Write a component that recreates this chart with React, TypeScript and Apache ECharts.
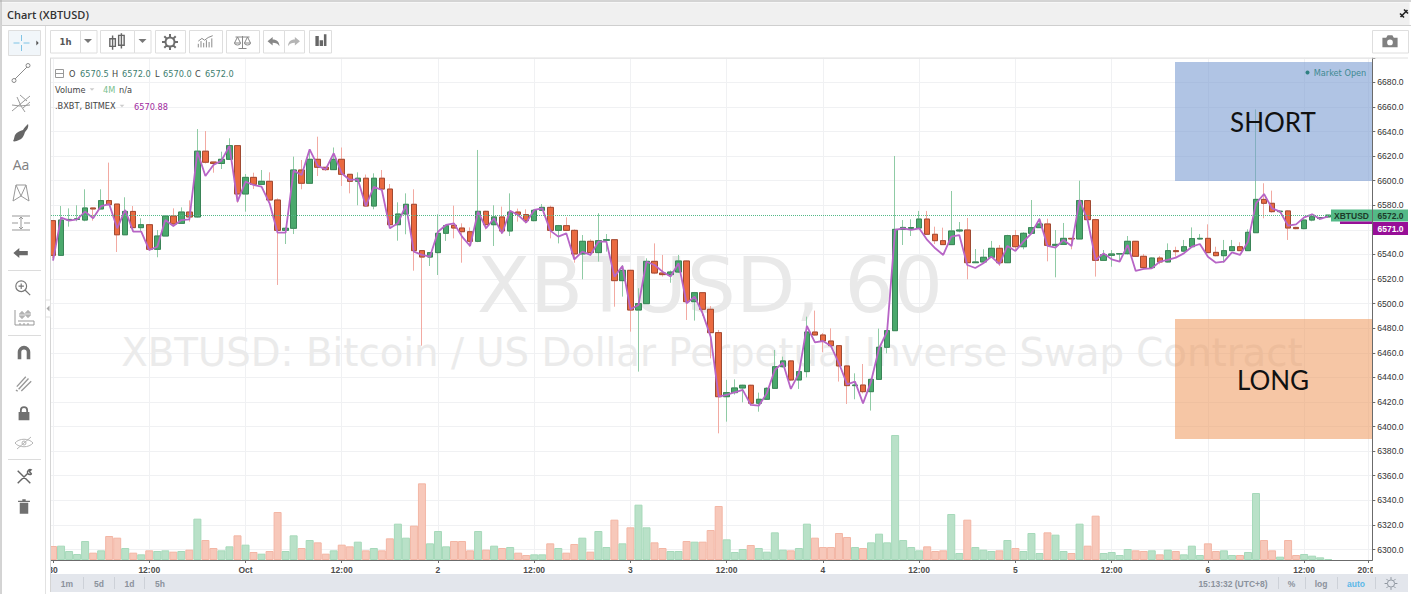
import React, { useEffect, useRef } from "react";
import * as echarts from "echarts";

const opens = [6567.5,6539.3,6568,6568.5,6568,6577.8,6577,6583.8,6581,6556,6575,6561.8,6564.2,6544.2,6555,6571.3,6565.3,6574.5,6570.5,6624,
6615.2,6614,6617.4,6628.5,6589.2,6602.7,6597,6599.5,6584.3,6559.6,6561.3,6608.7,6597.9,6617.4,6610.9,6609,6617.4,6605.2,6599.5,6602,
6579.4,6602,6593.2,6564.2,6572.9,6580.8,6543.1,6537.9,6541.5,6557.2,6563.7,6561.5,6558.5,6550.7,6575.1,6564.2,6570.5,6559.1,6574.5,6572.4,
6567.5,6575.9,6578.3,6559.6,6563.4,6559.6,6540.4,6550.7,6541.5,6551.5,6552,6518.7,6527.1,6494.8,6500,6534.4,6524.9,6523.6,6525.7,6534.7,
6501.6,6508.9,6495.4,6476.4,6424.3,6427.6,6431.4,6433.6,6419,6422.2,6431.1,6448.7,6453.4,6437.9,6444.7,6476.9,6474.5,6469.6,6465.8,6449.3,
6433.3,6433.8,6428.4,6438.4,6464.5,6478,6560.4,6561.2,6561.5,6568.8,6556.4,6551.2,6548,6559.1,6559.9,6533.3,6533.9,6537.7,6545,6533.3,
6555.3,6546.3,6557.2,6561.8,6564.8,6547.4,6548.2,6553.1,6552.6,6583.8,6568.3,6535.2,6539.3,6540.4,6540.6,6550.7,6538.5,6529.3,6537.1,6533.9,
6543.1,6542.7,6546.3,6552.6,6553.1,6541.7,6539,6543.1,6546.3,6543.1,6557.7,6584.8,6581.6,6574.8,6575.4,6562,6561,6568,6569.2,6570.5];
const closes = [6539.3,6568,6568.5,6569,6577.8,6577,6583.8,6580.5,6556,6575,6561.8,6564.2,6544.2,6555,6571.3,6564.8,6574.5,6570.5,6624,6615,
6614,6617.4,6628.5,6589.2,6602.7,6597,6599.5,6584.3,6559.6,6561.3,6608.7,6597.9,6617.4,6610.9,6609,6617.4,6605.2,6599.5,6602,6579.4,
6602,6593.2,6564.2,6572.9,6580.8,6543.1,6537.9,6541.5,6557.2,6563.4,6561.5,6558.5,6550.7,6575.1,6564.2,6570.5,6559.1,6574.5,6572.6,6567.5,
6575.9,6578.3,6559.6,6563.4,6559.6,6540.4,6550.7,6541.5,6551.2,6552,6518.7,6527.1,6494.8,6500,6534.4,6524.9,6523.6,6525.7,6534.7,6501.6,
6508.9,6495.4,6476.4,6424.3,6427.6,6431.4,6433.6,6419,6422.2,6431.1,6448.7,6453.4,6437.9,6444.7,6476.9,6474.5,6469.6,6465.8,6449.3,6433.3,
6433.8,6428.4,6438.4,6464.5,6478,6560.4,6562,6561.9,6568.8,6556.4,6551.2,6548,6559.1,6559.9,6533.3,6533.9,6537.7,6545,6533.3,6555.3,
6546.3,6557.2,6561.8,6564.8,6547.4,6548.2,6553.1,6552.6,6583.8,6568.3,6535.2,6539.8,6540.4,6540.6,6550.7,6538.5,6529.3,6537.1,6533.9,6543.1,
6542.3,6546.3,6552.9,6553.1,6541.5,6539,6543.1,6546.3,6543.1,6558,6584.8,6581.6,6574.8,6575.2,6561.5,6561,6568,6570.7,6570,6572];
const highs = [6567.5,6579.4,6577.5,6580,6593,6578,6593,6614.7,6581,6586.5,6579.4,6569.4,6564.2,6559.9,6572,6577.5,6578.3,6584,6642,6640.4,
6615,6623.6,6634.5,6628.8,6605.4,6606.5,6608.7,6606.8,6585.6,6562,6619.6,6616.8,6625,6635.8,6611,6627,6627,6605.2,6606.8,6605,
6606,6608.7,6597.3,6582.4,6589.7,6593,6543.1,6542,6572.6,6564,6579.7,6565.3,6562,6625,6575.5,6580,6578.9,6589.7,6577.3,6576.7,
6576.7,6581,6579.7,6564,6570.2,6560.4,6555.8,6552.3,6573.5,6556.6,6552.3,6531.4,6527.5,6512.5,6536.9,6549,6539.6,6527,6539.6,6535,
6509.5,6509,6498,6478.6,6438,6438.4,6434,6434,6427.6,6432,6462.3,6456.9,6454,6445.5,6489.4,6494.3,6476,6479.9,6466,6450,
6443.3,6450.9,6439,6479.7,6478.5,6620.1,6568,6568.6,6575.4,6575.4,6562.6,6561.8,6591.6,6566.4,6569.7,6544.4,6544.2,6551,6547.7,6556,
6559.9,6558,6584.3,6569.4,6569.1,6559.9,6565.6,6553.3,6600,6584,6569,6543.6,6543.6,6541,6555,6551,6540.4,6537.5,6538.8,6549,
6546.3,6551.8,6562,6556.6,6564.5,6546.3,6551.8,6551.8,6549.9,6560.4,6658,6597.9,6591.9,6576,6576,6562.5,6568.6,6573,6570.5,6572];
const lows = [6537,6539,6562.6,6567,6567,6567.5,6577,6580,6542,6556,6559,6558.5,6543,6537.7,6555,6562.6,6565,6566.7,6570,6614,
6606.5,6609.5,6617,6582,6574.8,6593.3,6597,6584,6515.2,6548.5,6556.6,6593,6597.9,6603.8,6608,6608.8,6595.7,6589.7,6580,6579,
6576.7,6592.4,6562,6551.2,6556.4,6526.8,6465.8,6530.6,6523.3,6551,6553.1,6533.3,6546.3,6550,6560.4,6546.9,6556.6,6555,6566.7,6565.3,
6567,6575.5,6553.1,6549,6559,6533.3,6519.8,6539,6534.2,6542.3,6497.5,6505.7,6477.2,6444.7,6500,6524,6522,6517,6525,6486.7,
6486.2,6490,6455.5,6394.5,6404,6426,6419.7,6417,6412.1,6421.6,6431,6448,6437,6430.6,6440,6474,6460.4,6465,6436.6,6418.4,
6422.2,6427,6413,6438,6459.6,6478,6547.7,6555,6561,6556,6548.5,6548,6548,6558,6519.8,6533,6533,6537.5,6530.6,6533,
6543,6544.2,6557,6561.5,6534.4,6521.4,6547.7,6544.2,6552.5,6568,6522,6535,6530,6534,6540,6538,6529,6529,6532,6533.5,
6538.2,6542,6546,6552,6541,6538.5,6533.3,6543,6543,6543,6557.7,6569.4,6574,6574,6551.8,6560.5,6560.5,6567,6568,6570];
const bxbtIndex = [6535,6570,6567.5,6568.6,6574.8,6569.4,6579.4,6581,6561.3,6576.2,6558.6,6558.6,6543.6,6546.3,6568,6563.2,6568,6568.6,6623.6,6603.8,
6612.8,6616.3,6628.2,6583,6599.2,6596.5,6595.1,6581.6,6557.7,6557.7,6608.2,6604.6,6625.5,6612,6609.2,6622.3,6606,6600.6,6601.1,6579.4,
6595,6592.4,6561.3,6565.3,6580.2,6542.3,6539.6,6538.2,6558.5,6564,6565.3,6554.5,6546.9,6574.8,6561.3,6569.4,6557.2,6575.6,6572.1,6565.9,
6576.2,6577.5,6559.4,6554.5,6557.2,6536,6542.3,6539.6,6550.4,6550.4,6522,6530.6,6495.4,6498.9,6534.1,6531.4,6526,6522,6532.8,6500.3,
6505.7,6492.1,6473.1,6424.3,6425.7,6427.9,6429.8,6417.6,6417,6427,6446,6452,6430.6,6443.3,6481.8,6468.5,6469.6,6465.5,6451.5,6434.4,
6436.6,6418.9,6436.6,6463.7,6477.2,6559.9,6561.3,6559.9,6561.3,6551.8,6545,6539.6,6554.5,6555.8,6531.4,6529,6532.8,6538.2,6532.2,6546.9,
6542.8,6550.4,6557.2,6568.9,6546.9,6545.5,6551.8,6546.9,6584.3,6568,6535.5,6540.9,6536,6534.2,6547.7,6526.6,6528.2,6528.7,6534.2,6535.5,
6537.4,6540.9,6546.3,6548.5,6538.2,6533.3,6534.2,6541.7,6539.6,6550.4,6581.6,6589.2,6577.5,6574.8,6563.4,6564.5,6570.2,6572.6,6568.9,6570.88];
const volumes = [42,43,27,18,57,22,29,72,67,36,22,17,29,27,29,25,27,31,124,60,
36,29,41,74,46,24,19,27,144,27,74,36,60,53,19,29,46,41,55,29,
36,29,65,109,67,103,230,50,87,41,57,57,29,87,31,43,36,39,22,15,
17,17,50,36,22,48,67,25,87,39,121,50,98,166,98,53,36,27,27,57,
55,55,90,162,62,24,33,45,36,25,83,31,29,36,109,67,39,39,81,69,
39,36,53,79,53,375,60,39,29,41,27,29,138,21,121,39,31,27,29,60,
36,27,81,21,83,76,27,21,109,43,133,21,24,15,33,29,27,29,17,31,
27,17,43,15,50,27,29,15,15,24,201,60,29,10,60,15,18,13,8,3];
const tickLabels: Record<number, string> = { 0: "30", 12: "12:00", 24: "Oct", 36: "12:00", 48: "2", 60: "12:00", 72: "3", 84: "12:00", 96: "4", 108: "12:00", 120: "5", 132: "12:00", 144: "6", 156: "12:00", 164: "20:00" };
const priceTop = 6700;
const priceBottom = 6280;
const lastPrice = 6572;
const hourSlots = 165;

const FONT_AXIS = "'Liberation Sans', Arial, sans-serif";
const FONT_VERD = "'DejaVu Sans', sans-serif";
const FONT_UI = "'Open Sans', sans-serif";

const iconPaths: Record<string, string> = {
  cross: "M0 -8V-2M0 2V8M-8 0H-2M2 0H8",
  lineTool: "M-6 6L6 -6M-9 7.5A2 2 0 1 0 -5 7.5A2 2 0 1 0 -9 7.5ZM5 -7.5A2 2 0 1 0 9 -7.5A2 2 0 1 0 5 -7.5Z",
  fork: "M-9 8L9 -7M-9 2L-1 3L9 2M-4 -6L0 3L4 9M-1 -8L6 -2M2 5L9 -1",
  brush: "M7 -9C8 -6 6 -3 4 -1C3 3 1 6 -2 7C-4 8 -7 9 -8 8C-7 7 -7 5 -6 2C-4 -1 -1 -2 2 -3C3 -5 5 -7 7 -9Z",
  pattern: "M-8 8L-5 -8L0 3L5 -8L8 8M-8 8L0 3L8 8M-5 -8L5 -8",
  ruler: "M-9 -7H9M-9 7H9M-9 0H-3M3 0H9M0 -6V6M-2 -4L0 -6L2 -4M-2 4L0 6L2 4",
  arrow: "M-9 0L-2 -6V-2.5H8V2.5H-2V6Z",
  zoom: "M-8 -2A6 6 0 1 1 4 -2A6 6 0 1 1 -8 -2ZM2.5 2.5L8 8M-5 -2H1M-2 -5V1",
  measure: "M-9 -8V7H10V3H-6M-4 7V5M0 7V5M4 7V5M-2 -7V1M-4 -5H0V-1H-4ZM4 -8V0M2 -6H6V-2H2Z",
  magnet: "M-7 7V-1A7 7 0 0 1 7 -1V7H3V-1A3 3 0 0 0 -3 -1V7Z",
  pencil: "M-8 4L2 -7M-6 7L5 -5M-3 9L8 -2M-9 8L-7 9",
  lock: "M-6 -1H6V8H-6ZM-4.5 -1V-3A4.5 4.5 0 0 1 4.5 -3V-1H2.5V-3A2.5 2.5 0 0 0 -2.5 -3V-1Z",
  eye: "M-9 0C-5 -5 5 -5 9 0C5 5 -5 5 -9 0ZM-7 6L7 -6M-2 0A2 2 0 1 0 2 0A2 2 0 1 0 -2 0Z",
  tools: "M-7 -7L7 7M-7 7L4 -4M4 -4C3 -7 6 -9 8 -8L6 -6L8 -4C9 -3 6 -2 4 -4",
  trash: "M-5 -5H5V8H-5ZM-7 -7.5H7V-6H-7ZM-2 -9H2V-7.5H-2Z",
  candles: "M-4 -6V7M-6.5 -3H-1.5V4H-6.5ZM4 -8V6M1.5 -6H6.5V3H1.5Z",
  gear: "M-4.5 0A4.5 4.5 0 1 1 4.5 0A4.5 4.5 0 1 1 -4.5 0ZM0 -8V-5M0 8V5M-8 0H-5M8 0H5M-5.7 -5.7L-3.6 -3.6M5.7 5.7L3.6 3.6M-5.7 5.7L-3.6 3.6M5.7 -5.7L3.6 -3.6",
  indicators: "M-8 6V2M-5 6V-1M-2 6V1M1 6V-2M4 6V0M7 6V-4M-8 -1L-4 -4L-1 -2L3 -5L8 -7",
  scales: "M0 -6V6M-4 6.5H4M-7 -5H7M-5 -5L-8 1H-2ZM5 -5L2 1H8ZM-8 1A3 2 0 0 0 -2 1M2 1A3 2 0 0 0 8 1",
  undo: "M-7 -1L-1 -6V-3C4 -3 7 0 7 5C5 2 3 1 -1 1V4Z",
  redo: "M7 -1L1 -6V-3C-4 -3 -7 0 -7 5C-5 2 -3 1 1 1V4Z",
  bars: "M-6 -6H-2V6H-6ZM-1 -1H3V6H-1ZM4 -8H7V6H4Z",
  camera: "M-8 -4H-4L-2.5 -6.5H2.5L4 -4H8V6H-8ZM-3 1A3 3 0 1 0 3 1A3 3 0 1 0 -3 1Z",
  caret: "M-4 -2H4L0 2Z",
  pin: "M-3.5 3.5L3.5 -3.5M0 -4L4 0M-4 0L0 4",
  tab: "M1.5 -3L-1.5 0L1.5 3Z",
  tabRight: "M-1.5 -3L1.5 0L-1.5 3Z",
};
Object.keys(iconPaths).forEach((k) => {
  echarts.graphic.registerShape("ic_" + k, echarts.graphic.extendPath(iconPaths[k] as any, {}) as any);
});

const TOP = 100;
function icon(name: string, x: number, y: number, kind: "fill" | "stroke", color: string, lw = 1.2, scale = 1): any {
  return {
    type: "ic_" + name, x, y, scaleX: scale, scaleY: scale, z: TOP, silent: true,
    style: kind === "fill" ? { fill: color, stroke: null } : { fill: "none", stroke: color, lineWidth: lw },
  };
}
function txt(text: string, x: number, y: number, size: number, color: string, opt: any = {}): any {
  return {
    type: "text", z: opt.z ?? TOP, silent: true,
    style: {
      text, x, y, fill: color, textAlign: opt.align ?? "left", textVerticalAlign: "middle",
      font: `${opt.weight ?? "normal"} ${size}px ${opt.font ?? FONT_VERD}`,
    },
  };
}
function box(x: number, y: number, w: number, h: number, fill: string, stroke?: string, z = TOP): any {
  return {
    type: "rect", z, silent: true, shape: { x, y, width: w, height: h },
    style: { fill, stroke: stroke ?? null, lineWidth: 1 },
  };
}
function vline(x: number, y1: number, y2: number, color: string, z = TOP): any {
  return { type: "line", z, silent: true, shape: { x1: x, y1, x2: x, y2 }, style: { stroke: color, lineWidth: 1 } };
}
function hline(x1: number, x2: number, y: number, color: string, z = TOP): any {
  return { type: "line", z, silent: true, shape: { x1, y1: y, x2, y2: y }, style: { stroke: color, lineWidth: 1 } };
}

const GI = "#8a8a8a";
const BTN = "#dedede";

function chrome(): any[] {
  const els: any[] = [];
  // Watermarks (below the series)
  els.push(txt("XBTUSD, 60", 710, 285, 77.3, "#e9e9e9", { align: "center", z: 1 }));
  els.push(txt("XBTUSD: Bitcoin / US Dollar Perpetual Inverse Swap Contract", 712, 352.5, 38.7, "#ebebeb", { align: "center", z: 1 }));
  // Covers
  els.push(box(0, 0, 50.5, 594, "#fff", undefined, 50));
  els.push(box(0, 0, 1411, 57.5, "#fff", undefined, 50));
  els.push(box(1373, 559, 38, 15, "#fff", undefined, 50));
  els.push(box(50, 574, 1358, 18, "#e3e6ec", undefined, 50));
  // Outer frame and heading
  els.push(box(1.5, 2.5, 1408, 22.5, "#f0f0f0"));
  els.push(hline(0, 1411, 1, "#a8a8a8"));
  els.push(vline(1, 0, 594, "#a8a8a8"));
  els.push(hline(2, 1411, 25.5, "#cfcfcf"));
  els.push(txt("Chart (XBTUSD)", 7, 14.5, 11, "#333", { weight: 600, font: FONT_UI }));
  els.push(icon("pin", 1404, 13.5, "stroke", "#222", 1.6));
  // Plot frame
  els.push(vline(45.5, 26, 594, "#e2e2e2"));
  els.push(vline(50.5, 58, 592, "#d4d4d4", 60));
  els.push(hline(50, 1408, 58, "#e0e0e0", 60));
  els.push(box(45.5, 300, 5, 17, "#fff", "#e0e0e0"));
  els.push(icon("tab", 48, 308.5, "fill", "#aaa"));
  // Top toolbar
  const btn = (x: number, w: number) => box(x + 0.5, 30.5, w, 22.5, "#fff", BTN);
  els.push(btn(50, 30), btn(80, 16.5), btn(100, 34), btn(134, 16.5), btn(155, 30), btn(189, 33), btn(226, 33), btn(263, 21), btn(284, 20), btn(309, 22), btn(1372, 36));
  els.push(txt("1h", 65.5, 41.5, 8.5, "#555", { align: "center", weight: "bold" }));
  els.push(icon("caret", 88, 41, "fill", "#777"));
  els.push(icon("candles", 117, 42, "stroke", "#666", 1.3, 1.1));
  els.push(icon("caret", 142.5, 41, "fill", "#777"));
  els.push(icon("gear", 170, 42, "stroke", "#6d6d6d", 2));
  els.push(icon("indicators", 205.5, 42, "stroke", "#8a8a8a", 1.1, 0.9));
  els.push(icon("scales", 242.5, 42, "stroke", "#888", 1));
  els.push(icon("undo", 273.5, 42, "fill", "#888", 1, 0.85));
  els.push(icon("redo", 294, 42, "fill", "#b5b5b5", 1, 0.85));
  els.push(icon("bars", 320.5, 41, "fill", "#666", 1, 0.85));
  els.push(icon("camera", 1390, 41.5, "fill", "#808080", 1, 0.95));
  // Left toolbar
  els.push(box(8.5, 30.5, 32, 25, "#f1f6fa", BTN));
  els.push(icon("cross", 21.5, 43, "stroke", "#7fc4e6", 1));
  els.push(icon("tabRight", 37.5, 43, "fill", "#555", 1.2, 0.8));
  els.push(icon("lineTool", 21, 73, "stroke", GI, 1));
  els.push(icon("fork", 21, 103, "stroke", "#9a9a9a", 1));
  els.push(icon("brush", 21, 133, "fill", "#666"));
  els.push(txt("Aa", 21, 164, 14, "#808080", { align: "center", font: FONT_UI }));
  els.push(icon("pattern", 21, 193, "stroke", "#999", 1));
  els.push(icon("ruler", 21, 223, "stroke", "#999", 1));
  els.push(icon("arrow", 21, 253, "fill", "#6a6a6a", 1, 0.85));
  els.push(hline(8, 41, 270.5, "#dcdcdc"));
  els.push(icon("zoom", 23, 288, "stroke", "#777", 1.3, 0.9));
  els.push(icon("measure", 24, 318, "stroke", "#999", 1));
  els.push(hline(8, 41, 335.5, "#dcdcdc"));
  els.push(icon("magnet", 24, 353, "fill", "#707070", 1, 0.9));
  els.push(icon("pencil", 24, 383, "stroke", "#999", 1.5, 0.9));
  els.push(icon("lock", 24, 413, "fill", "#707070", 1, 0.9));
  els.push(icon("eye", 24, 443, "stroke", "#b5b5b5", 1));
  els.push(hline(8, 41, 459.5, "#dcdcdc"));
  els.push(icon("tools", 24, 477, "stroke", "#666", 1.6, 0.9));
  els.push(icon("trash", 24, 507, "fill", "#707070", 1, 0.85));
  // Legend
  const val = "#3d7d6e";
  const lab = "#444";
  els.push(box(55.5, 69.5, 8, 8, "#fff", "#999"));
  els.push(hline(56, 63, 73.5, "#999"));
  [["O", 69, lab], ["6570.5", 80, val], ["H", 112, lab], ["6572.0", 122, val], ["L", 155, lab], ["6570.0", 163, val], ["C", 195, lab], ["6572.0", 205, val]].forEach((p: any) => {
    els.push(txt(p[0], p[1], 74, 8.2, p[2]));
  });
  els.push(txt("Volume", 55, 90, 8.2, lab));
  els.push(icon("caret", 92, 89.5, "fill", "#ccc", 1, 0.6));
  els.push(txt("4M", 103, 90, 8.2, "#7cc08f"));
  els.push(txt("n/a", 119, 90, 8.2, lab));
  els.push(txt(".BXBT, BITMEX", 55, 106, 8.2, lab));
  els.push(icon("caret", 122, 106, "fill", "#ccc", 1, 0.6));
  els.push(txt("6570.88", 134, 106.5, 8.2, "#a0289e"));
  // Annotation boxes
  els.push(box(1175, 62, 197, 119, "rgba(123,157,210,0.6)", undefined, 40));
  els.push(txt("Market Open", 1340, 72.5, 8.2, "#3f8a92", { align: "center", z: 41 }));
  els.push({ type: "circle", z: 41, silent: true, shape: { cx: 1307.5, cy: 72.5, r: 2 }, style: { fill: "#2f8080" } });
  els.push(txt("SHORT", 1273, 121.5, 26, "#111", { align: "center", z: 41, font: "Lato, sans-serif" }));
  els.push(box(1175, 319, 197, 120, "rgba(238,152,91,0.55)", undefined, 40));
  els.push(txt("LONG", 1273, 379.5, 26, "#111", { align: "center", z: 41, font: "Lato, sans-serif" }));
  // Price tags
  els.push(box(1331, 209.5, 41, 12, "#53b987", undefined, 60));
  els.push(txt("XBTUSD", 1351.5, 216, 8.5, "#1c3b2a", { align: "center", z: 61, font: FONT_AXIS, weight: "bold" }));
  els.push(box(1373, 209.5, 35, 12, "#53b987", undefined, 60));
  els.push(txt("6572.0", 1390.5, 216, 8.5, "#1c3b2a", { align: "center", z: 61, font: FONT_AXIS, weight: "bold" }));
  els.push(box(1340, 221.5, 32, 2.5, "#970f97", undefined, 60));
  els.push(box(1373, 222, 35, 13, "#970f97", undefined, 60));
  els.push(txt("6571.0", 1390.5, 229, 8.5, "#fff", { align: "center", z: 61, font: FONT_AXIS, weight: "bold" }));
  // Footer
  const ft = "#8b929c";
  [["1m", 67], ["5d", 99], ["1d", 129.5], ["5h", 160]].forEach((p: any) => els.push(txt(p[0], p[1], 583.5, 8.5, ft, { align: "center", font: FONT_AXIS, weight: "bold" })));
  [83, 114, 144, 1278, 1305, 1337, 1375].forEach((x) => els.push(vline(x + 0.5, 577, 589, "#cdd1d8")));
  els.push(txt("15:13:32 (UTC+8)", 1233, 583.5, 8.5, ft, { align: "center", font: FONT_AXIS, weight: "bold" }));
  els.push(txt("%", 1291.5, 583.5, 8.5, ft, { align: "center", font: FONT_AXIS, weight: "bold" }));
  els.push(txt("log", 1321, 583.5, 8.5, ft, { align: "center", font: FONT_AXIS, weight: "bold" }));
  els.push(txt("auto", 1356, 583.5, 8.5, "#5bb8e8", { align: "center", font: FONT_AXIS, weight: "bold" }));
  els.push(icon("gear", 1391, 583.5, "stroke", "#8b929c", 1.2, 0.8));
  return els;
}

const UP_WICK = "#8fcba5";
const DOWN_WICK = "#f2aaa2";
const UP_BODY = "#4aa96c";
const UP_EDGE = "#3a8457";
const DOWN_BODY = "#ea6a40";
const DOWN_EDGE = "#a04a32";
const UP_VOL = "#b9e1c8";
const UP_VOL_EDGE = "#a6d9ba";
const DOWN_VOL = "#f7c8ba";
const DOWN_VOL_EDGE = "#f3b6a5";

export default function App() {
  const ref = useRef<HTMLDivElement>(null);
  useEffect(() => {
    document.body.style.margin = "0";
    document.body.style.overflow = "hidden";
    const chart = echarts.init(ref.current!, undefined, { renderer: "svg" });
    const pad = [NaN, NaN, NaN, NaN];
    const categories = ["pad", ...Array.from({ length: hourSlots }, (_, i) => `Day ${Math.floor(i / 24)} ${i % 24}:00`)];
    const wickData = [pad, ...opens.map((o, i) => [o, closes[i], lows[i], highs[i]])];
    const bodyData = [pad, ...opens.map((o, i) => [o, closes[i], Math.min(o, closes[i]), Math.max(o, closes[i])])];
    const volData: any[] = [null, ...volumes.map((v, i) => ({
      value: v,
      itemStyle: closes[i] >= opens[i]
        ? { color: UP_VOL, borderColor: UP_VOL_EDGE }
        : { color: DOWN_VOL, borderColor: DOWN_VOL_EDGE },
    }))];
    const atLabel = (i: number) => tickLabels[i - 1] !== undefined;
    chart.setOption({
      animation: false,
      backgroundColor: "#fff",
      grid: [
        { left: 41, width: 1331.3, top: 57.75, height: 502.25 },
        { left: 41, width: 1331.3, top: 57.75, height: 516.35 },
      ],
      xAxis: [
        {
          type: "category", gridIndex: 0, data: categories,
          axisLine: { show: true, onZero: false, lineStyle: { color: "#6b6b6b", width: 1 } },
          axisTick: { show: true, alignWithLabel: true, length: 3, interval: (i: number) => atLabel(i), lineStyle: { color: "#6b6b6b" } },
          axisLabel: {
            show: true, margin: 5, interval: (i: number) => atLabel(i), hideOverlap: false,
            formatter: (_: string, i: number) => tickLabels[i - 1] ?? "",
            fontFamily: FONT_AXIS, fontSize: 8.5, fontWeight: "bold", color: "#4c4c4c",
          },
          splitLine: { show: true, alignWithLabel: true, interval: (i: number) => atLabel(i), lineStyle: { color: "#f0f1f3", width: 1 } },
        },
        {
          type: "category", gridIndex: 1, data: categories,
          axisLine: { show: false }, axisTick: { show: false }, axisLabel: { show: false }, splitLine: { show: false },
        },
      ],
      yAxis: [
        {
          type: "value", gridIndex: 1, position: "right", min: priceBottom, max: priceTop, interval: 20, scale: true,
          axisLine: { show: false },
          axisTick: { show: true, length: 3, lineStyle: { color: "#6b6b6b" } },
          axisLabel: {
            margin: 5, fontFamily: FONT_AXIS, fontSize: 8.6, color: "#333",
            formatter: (v: number) => (v === priceTop || v === priceBottom ? "" : v.toFixed(1)),
          },
          splitLine: { show: true, lineStyle: { color: "#f0f1f3", width: 1 } },
        },
        {
          type: "value", gridIndex: 0, position: "right", min: 0, max: 1506.75,
          axisLine: { show: true, lineStyle: { color: "#6b6b6b", width: 1 } },
          axisTick: { show: false }, axisLabel: { show: false }, splitLine: { show: false },
        },
      ],
      series: [
        {
          name: "Volume", type: "bar", xAxisIndex: 0, yAxisIndex: 1, data: volData, barWidth: 8, barGap: "0%",
          itemStyle: { borderWidth: 1 }, silent: true,
        },
        {
          name: "XBTUSD wicks", type: "candlestick", xAxisIndex: 1, yAxisIndex: 0, data: wickData, barWidth: 6, silent: true,
          itemStyle: { color: UP_WICK, color0: DOWN_WICK, borderColor: UP_WICK, borderColor0: DOWN_WICK, borderWidth: 1 },
          markLine: {
            silent: true, symbol: "none", label: { show: false },
            lineStyle: { color: "#53b987", type: "dotted", width: 1 },
            data: [{ yAxis: lastPrice }],
          },
        },
        {
          name: "XBTUSD", type: "candlestick", xAxisIndex: 1, yAxisIndex: 0, data: bodyData, barWidth: 6, silent: true,
          itemStyle: { color: UP_BODY, color0: DOWN_BODY, borderColor: UP_EDGE, borderColor0: DOWN_EDGE, borderWidth: 1 },
        },
        {
          name: ".BXBT", type: "line", xAxisIndex: 1, yAxisIndex: 0, data: [null, ...bxbtIndex], showSymbol: false, symbol: "none", silent: true, z: 3,
          lineStyle: { color: "#b765c6", width: 1.8 },
        },
      ],
      graphic: { elements: chrome() },
    });
    return () => chart.dispose();
  }, []);
  return <div ref={ref} style={{ position: "fixed", left: 0, top: 0, width: 1411, height: 594 }} />;
}
